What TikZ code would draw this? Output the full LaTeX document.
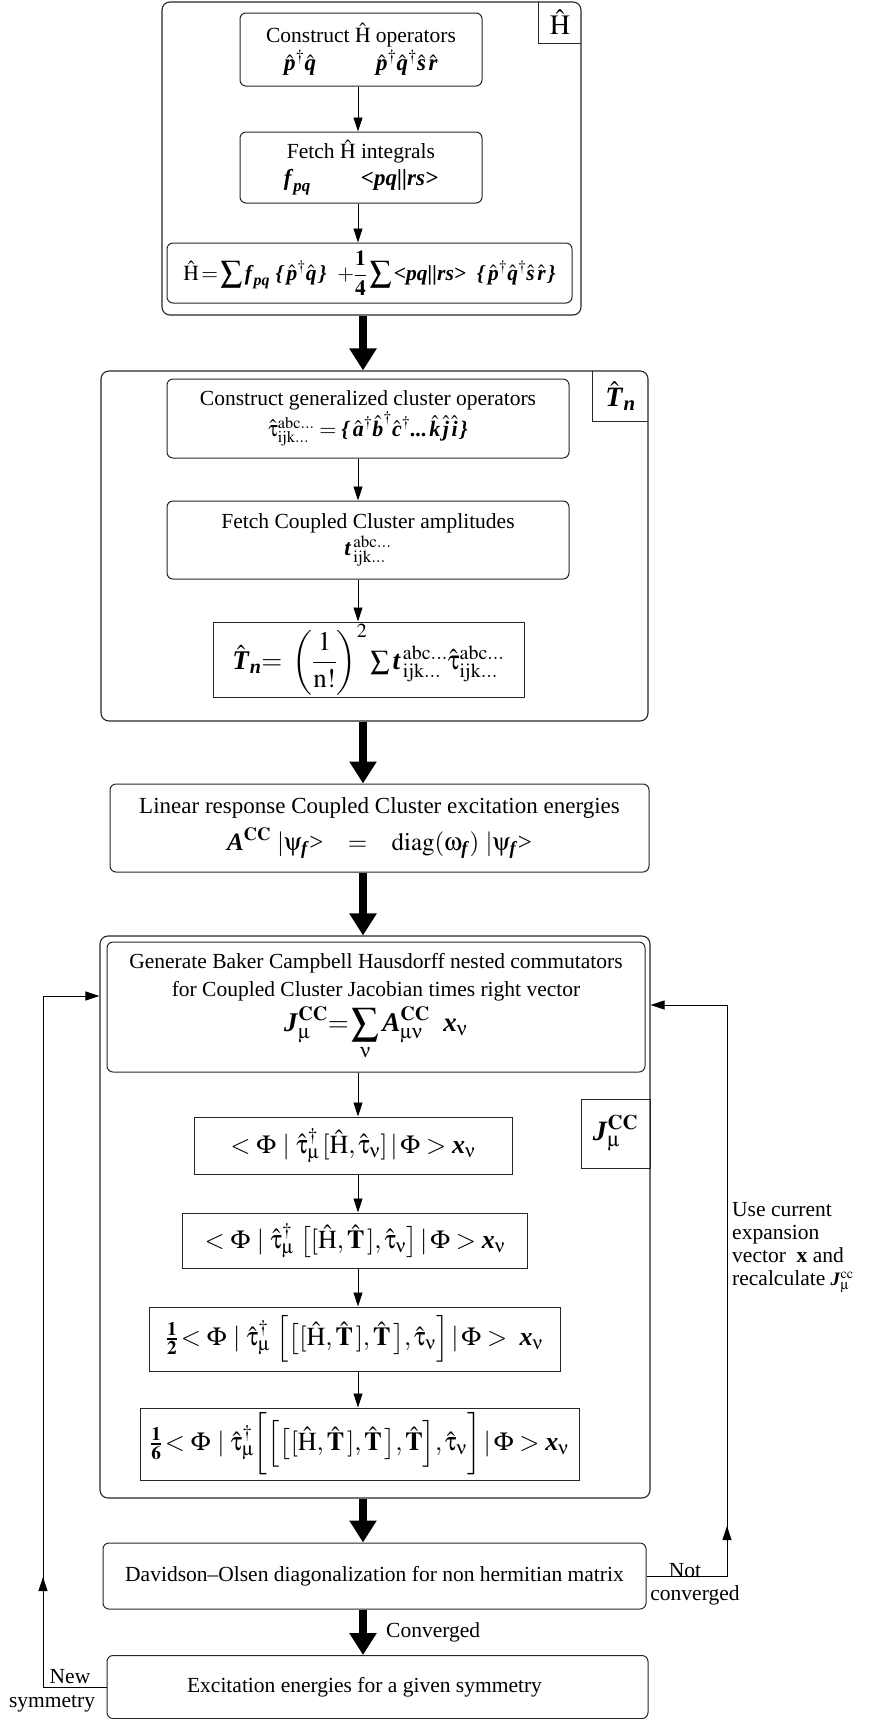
\documentclass[tikz,border=0pt]{standalone}
\usepackage{mathptmx}
\usepackage{amsmath}
\usepackage[Symbol]{upgreek}
\usepackage[no-math]{fontspec}
\setmainfont{Liberation Serif}
\usetikzlibrary{arrows.meta}

% bold italic letters as in the scheme
\newcommand{\bi}[1]{\textbf{\textit{#1}}}
\newcommand{\Hop}{\hat{\mathrm{H}}}
\newcommand{\Top}{\hat{\mathbf{T}}}
\newcommand{\eqsize}{\fontsize{23}{27}\selectfont}

\begin{document}
\begin{tikzpicture}[x=1pt,y=-1pt,
    outerbox/.style={draw=black!85,rounded corners=8pt,line width=1.1pt,inner sep=0pt},
    stepbox/.style={draw=black!85,rounded corners=6pt,line width=1pt,align=center,inner sep=0pt,
      font=\fontsize{21.5}{27}\selectfont},
    eqbox/.style={draw=black!85,line width=1pt,align=center,inner sep=0pt,
      font=\fontsize{26}{30}\selectfont},
    tagbox/.style={inner sep=0pt,font=\fontsize{28}{32}\selectfont},
    flowarrow/.style={-{Triangle[width=9pt,length=14pt]},line width=0.9pt},
    bigarrow/.style={-{Triangle[width=26pt,length=22pt]},line width=8pt},
    note/.style={inner sep=0pt,font=\fontsize{21.5}{23}\selectfont}]
\useasboundingbox (0,0) rectangle (869,1719);

\coordinate (spine) at (363,0);
\coordinate (thin) at (358,0);
\coordinate (rloop) at (727,1005);
\coordinate (lloop) at (43,996);

% Hamiltonian block
\node[outerbox,minimum width=419pt,minimum height=313pt] (hbox) at (371.5,158.5) {};
\node[tagbox,minimum width=42pt,minimum height=41pt] (hlabel) at (560,22.5) {$\Hop$};
\draw[line width=1pt,black!85] (hlabel.north west) -- (hlabel.south west) -- (hlabel.south east);
\node[stepbox,minimum width=242pt,minimum height=73pt] (c1) at (361,49.5)
  {Construct $\Hop$ operators\\[1pt]
   {\eqsize$\hat{\bi{p}}^{\dagger}\hat{\bi{q}}$\hspace{60pt}$\hat{\bi{p}}^{\dagger}\hat{\bi{q}}^{\dagger}\hat{\bi{s}}\,\hat{\bi{r}}$}};
\node[stepbox,minimum width=242pt,minimum height=71pt] (c2) at (361,167.5)
  {Fetch $\Hop$ integrals\\
   {\eqsize$\bi{f}_{\bi{pq}}$\hspace{50pt}\bi{<pq||rs>}}};
\node[stepbox,minimum width=405pt,minimum height=60pt] (c3) at (369.5,273)
  {$\displaystyle\Hop\,\mathbf{=}\sum\bi{f}_{\bi{pq}}\ \bi{\{}\,\hat{\bi{p}}^{\dagger}\hat{\bi{q}}\,\bi{\}}\ \ \mathbf{+}\frac{\mathbf{1}}{\mathbf{4}}\sum\bi{<pq||rs>}\ \ \bi{\{}\,\hat{\bi{p}}^{\dagger}\hat{\bi{q}}^{\dagger}\hat{\bi{s}}\,\hat{\bi{r}}\,\bi{\}}$};
\draw[flowarrow] (c1.south -| thin) -- (c2.north -| thin);
\draw[flowarrow] (c2.south -| thin) -- (c3.north -| thin);

% cluster operator block
\node[outerbox,minimum width=547pt,minimum height=350pt] (tbox) at (374.5,546) {};
\node[tagbox,minimum width=55pt,minimum height=50pt] (tlabel) at (620.5,396) {$\hat{\bi{T}}_{\bi{n}}$};
\draw[line width=1pt,black!85] (tlabel.north west) -- (tlabel.south west) -- (tlabel.south east);
\node[stepbox,minimum width=402pt,minimum height=79pt] (c4) at (368,418.5)
  {Construct generalized cluster operators\\
   {\fontsize{22}{26}\selectfont$\hat{\uptau}^{\mathrm{abc...}}_{\mathrm{ijk...}}=\bi{\{}\,\hat{\bi{a}}^{\dagger}\hat{\bi{b}}^{\dagger}\hat{\bi{c}}^{\dagger}\bi{...}\,\hat{\bi{k}}\,\hat{\bi{j}}\,\hat{\bi{i}}\,\bi{\}}$}};
\node[stepbox,minimum width=402pt,minimum height=78pt] (c5) at (368,540)
  {Fetch Coupled Cluster amplitudes\\
   {\eqsize$\bi{t}^{\,\mathrm{abc...}}_{\,\mathrm{ijk...}}$}};
\node[eqbox,minimum width=311pt,minimum height=75pt] (c6) at (368.5,659.5)
  {\fontsize{27}{31}\selectfont$\hat{\bi{T}}_{\bi{n}}\mathbf{=}\ \left(\dfrac{1}{\mathrm{n!}}\right)^{2}\sum\bi{t}^{\,\mathrm{abc...}}_{\,\mathrm{ijk...}}\hat{\uptau}^{\mathrm{abc...}}_{\mathrm{ijk...}}$};
\draw[flowarrow] (c4.south -| thin) -- (c5.north -| thin);
\draw[flowarrow] (c5.south -| thin) -- (c6.north -| thin);

% linear response
\node[stepbox,minimum width=539pt,minimum height=88pt] (lr) at (379.5,828)
  {{\fontsize{23}{27}\selectfont Linear response Coupled Cluster excitation energies}\\[9pt]
   {\fontsize{25}{29}\selectfont$\bi{A}^{\mathbf{CC}}\ |\uppsi_{\bi{f}}\text{>}\ \ \ =\ \ \ \mathrm{diag}(\upomega_{\bi{f}})\ |\uppsi_{\bi{f}}\text{>}$}};

% Jacobian block
\node[outerbox,minimum width=550pt,minimum height=562pt] (jbox) at (375,1217) {};
\node[draw=black!85,line width=1pt,tagbox,minimum width=69pt,minimum height=69pt] (jlabel) at (615.5,1133.5)
  {$\bi{J}^{\mathbf{CC}}_{\upmu}$};
\node[stepbox,minimum width=538pt,minimum height=130pt] (gen) at (376,1007)
  {Generate Baker Campbell Hausdorff nested commutators\\[1pt]
   for Coupled Cluster Jacobian times right vector\\[5pt]
   {\fontsize{27}{30}\selectfont$\displaystyle\bi{J}^{\mathbf{CC}}_{\upmu}\mathbf{=}\sum_{\upnu}\bi{A}^{\mathbf{CC}}_{\upmu\upnu}\ \ \bi{x}_{\upnu}$}};
\node[eqbox,minimum width=318pt,minimum height=57pt] (b7) at (353,1145.5)
  {$<\Phi\ |\ \hat{\uptau}^{\dagger}_{\upmu}\,[\Hop,\hat{\uptau}_{\upnu}]\,|\,\Phi>\bi{x}_{\upnu}$};
\node[eqbox,minimum width=345pt,minimum height=55pt] (b8) at (355,1240.5)
  {$<\Phi\ |\ \hat{\uptau}^{\dagger}_{\upmu}\ \big[[\Hop,\Top\,],\hat{\uptau}_{\upnu}\big]\,|\,\Phi>\bi{x}_{\upnu}$};
\node[eqbox,minimum width=411pt,minimum height=64pt] (b9) at (354.5,1339)
  {$\frac{\mathbf{1}}{\mathbf{2}}\!<\Phi\ |\ \hat{\uptau}^{\dagger}_{\upmu}\ \Big[\big[[\Hop,\Top\,],\Top\,\big],\hat{\uptau}_{\upnu}\Big]\,|\,\Phi>\ \bi{x}_{\upnu}$};
\node[eqbox,minimum width=439pt,minimum height=72pt] (b10) at (359.5,1444)
  {$\frac{\mathbf{1}}{\mathbf{6}}\!<\Phi\ |\ \hat{\uptau}^{\dagger}_{\upmu}\bigg[\Big[\big[[\Hop,\Top\,],\Top\,\big],\Top\Big],\hat{\uptau}_{\upnu}\bigg]\,|\,\Phi>\bi{x}_{\upnu}$};
\draw[flowarrow] (gen.south -| thin) -- (b7.north -| thin);
\draw[flowarrow] (b7.south -| thin) -- (b8.north -| thin);
\draw[flowarrow] (b8.south -| thin) -- (b9.north -| thin);
\draw[flowarrow] (b9.south -| thin) -- (b10.north -| thin);

% diagonalization and result
\node[stepbox,minimum width=543pt,minimum height=66pt] (dav) at (374.5,1576)
  {Davidson\textendash Olsen diagonalization for non hermitian matrix};
\node[stepbox,minimum width=541pt,minimum height=63pt] (exc) at (377.5,1687)
  {Excitation energies for a given symmetry\hspace*{26pt}};

\draw[bigarrow] (hbox.south -| spine) -- (tbox.north -| spine);
\draw[bigarrow] (tbox.south -| spine) -- (lr.north -| spine);
\draw[bigarrow] (lr.south -| spine) -- (jbox.north -| spine);
\draw[bigarrow] (jbox.south -| spine) -- (dav.north -| spine);
\draw[bigarrow] (dav.south -| spine) -- (exc.north -| spine);
\node[note,anchor=base west] (conv) at (386,1637) {Converged};

% iteration loops
\draw[flowarrow] (dav.east) -| ([yshift=50pt]dav.east -| rloop);
\draw[flowarrow] (dav.east -| rloop) -- (rloop) -- (rloop -| jbox.east);
\node[note,anchor=base] (notc) at (685,1577) {Not};
\node[note,anchor=base] (notc2) at (695,1600) {converged};
\node[note,anchor=north west,align=left] (usenote) at (732,1202)
  {Use current\\expansion\\vector\ \ \textbf{x} and\\recalculate\ {\fontsize{19}{20}\selectfont$\bi{J}^{\mathrm{cc}}_{\upmu}$}};

\draw[flowarrow] (exc.west) -| ([yshift=110pt]exc.west -| lloop);
\draw[flowarrow] (exc.west -| lloop) -- (lloop) -- (lloop -| jbox.west);
\node[note,anchor=base] (newsym) at (70,1683) {New};
\node[note,anchor=base] (newsym2) at (52,1707) {symmetry};
\end{tikzpicture}
\end{document}
